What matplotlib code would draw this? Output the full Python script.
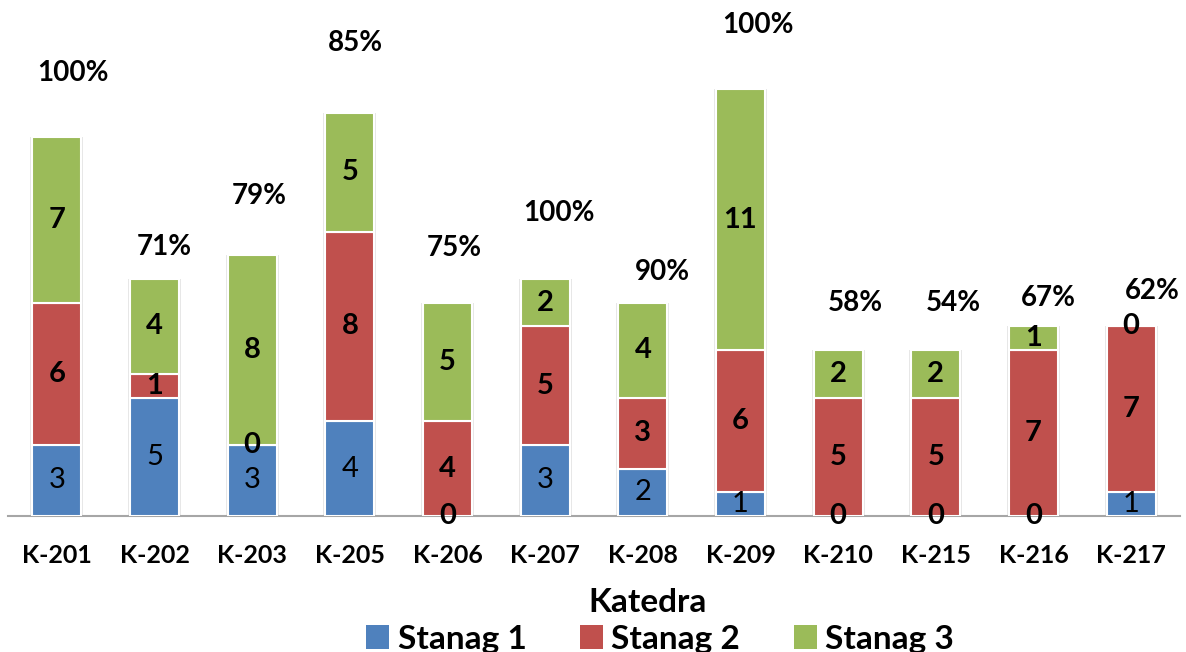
import numpy as np
import matplotlib.pyplot as plt
from matplotlib.patches import Patch

plt.rcParams['font.family'] = ['Lato', 'DejaVu Sans']

# Data
katedra = ["K-201", "K-202", "K-203", "K-205", "K-206", "K-207",
           "K-208", "K-209", "K-210", "K-215", "K-216", "K-217"]
stanag1 = [3, 5, 3, 4, 0, 3, 2, 1, 0, 0, 0, 1]
stanag2 = [6, 1, 0, 8, 4, 5, 3, 6, 5, 5, 7, 7]
stanag3 = [7, 4, 8, 5, 5, 2, 4, 11, 2, 2, 1, 0]
percent = ["100%", "71%", "79%", "85%", "75%", "100%",
           "90%", "100%", "58%", "54%", "67%", "62%"]
# where each percentage label sits (height in data units, shift in bar units)
percent_y = [18.7, 11.35, 13.5, 19.95, 11.3, 12.8,
             10.3, 20.7, 9.0, 9.0, 9.2, 9.5]
percent_dx = [0.17, 0.10, 0.07, 0.06, 0.07, 0.14,
              0.20, 0.18, 0.18, 0.18, 0.15, 0.22]

colors = ["#4F81BD", "#C0504D", "#9BBB59"]
names = ["Stanag 1", "Stanag 2", "Stanag 3"]

fig = plt.figure(figsize=(11.86, 6.52), dpi=100)
ax = fig.add_axes([8 / 1186, 136 / 652, 1172 / 1186, 516 / 652])

x = np.arange(len(katedra))
width = 0.5
totals = np.array(stanag1) + np.array(stanag2) + np.array(stanag3)
# faint shadow around the bars
ax.bar(x, totals, width + 0.04, color="#E6E6E6", linewidth=0, zorder=2)

bottom = np.zeros(len(katedra))
for vals, col, name in zip([stanag1, stanag2, stanag3], colors, names):
    vals = np.array(vals)
    ax.bar(x, vals, width, bottom=bottom, color=col, edgecolor="white",
           linewidth=1.5, label=name, zorder=3)
    # segment labels
    for xi, v, b in zip(x, vals, bottom):
        weight = "normal" if (name == "Stanag 1" and v > 0) else "bold"
        ax.text(xi, b + v / 2, str(v), ha="center", va="center",
                fontsize=21, fontweight=weight, color="black", zorder=4)
    bottom = bottom + vals

# percentage labels
for xi, p, py, dx in zip(x, percent, percent_y, percent_dx):
    ax.text(xi + dx, py, p, ha="center", va="center",
            fontsize=20, fontweight="bold", color="black")

ax.set_xlim(-0.5, len(katedra) - 0.5)
ax.set_ylim(0, 516 / 23.7)
ax.set_yticks([])
for s in ["top", "right", "left"]:
    ax.spines[s].set_visible(False)
ax.spines["bottom"].set_color("#A6A6A6")
ax.spines["bottom"].set_linewidth(1.5)
ax.set_xticks(x)
ax.set_xticklabels(katedra, fontsize=18, fontweight="bold")
ax.tick_params(axis="x", length=0, pad=20)

fig.text(648 / 1186, 1 - 602 / 652, "Katedra", ha="center", va="center",
         fontsize=24, fontweight="bold")

handles = [Patch(facecolor=c, edgecolor="none") for c in colors]
fig.legend(handles, names, loc="center", bbox_to_anchor=(660 / 1186, 1 - 639 / 652),
           ncol=3, frameon=False, prop={"size": 24, "weight": "bold"},
           handlelength=0.7, handleheight=0.7, handletextpad=0.25,
           columnspacing=1.6, borderpad=0)

fig.savefig("out.png", dpi=100)
